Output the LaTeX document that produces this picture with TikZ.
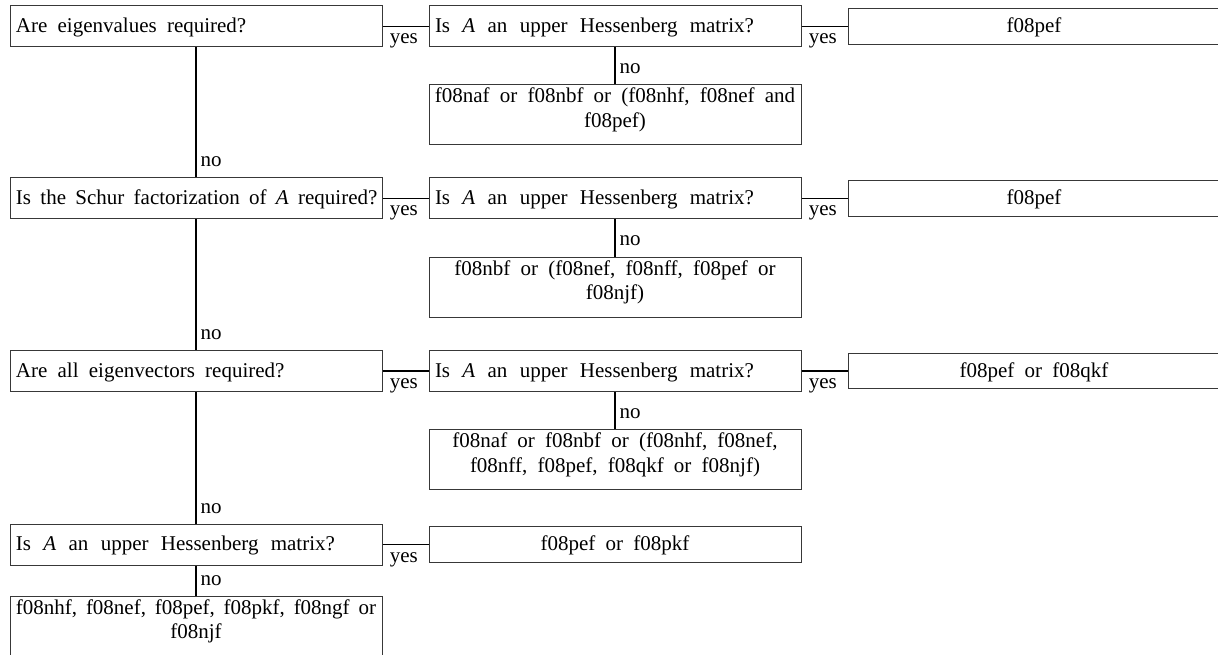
\documentclass[tikz,border=0pt]{standalone}
\usepackage{fontspec}
\setmainfont{Liberation Serif}
\tikzset{
  x=1pt, y=1pt,
  basefont/.style={font=\fontsize{21}{24.5}\selectfont, execute at begin node={\spaceskip=10.2pt plus 3pt minus 2pt\relax}},
  dec/.style={basefont, draw=black!78, line width=1pt, minimum width=372pt, minimum height=41pt,
    text width=360pt, inner xsep=6pt, inner ysep=0pt, align=left, text height=13pt, text depth=1pt},
  res/.style={basefont, draw=black!78, line width=1pt, minimum width=372pt, minimum height=35.5pt,
    inner sep=0pt, text height=13pt, text depth=1pt},
  subbox/.style={basefont, draw=black!78, line width=1pt, minimum width=372pt, minimum height=60pt,
    inner sep=0pt, text height=13pt, text depth=37pt},
  con/.style={draw=black, line width=1.4pt},
  yeslab/.style={basefont, pos=1, anchor=base east, inner sep=0pt, xshift=-10pt, yshift=-17.5pt},
  nolab/.style={basefont, pos=1, anchor=base west, inner sep=0pt, xshift=4pt, yshift=10.5pt}
}
\begin{document}
\begin{tikzpicture}
\useasboundingbox (0,0) rectangle (1218,-655);
\fill[white] (0,0) rectangle (1218,-655);
% row 1
\node[dec] (d1) at (196,-26.5) {Are eigenvalues required?};
\node[dec] (h1) at (615,-26.5) {\spaceskip=12.3pt\relax Is \textit{A} an upper Hessenberg matrix?};
\node[res] (r1) at (1034,-26.5) {f08pef};
\node[subbox] (s1) at (615,-115) {\parbox[t]{364pt}{\centering f08naf or f08nbf or (f08nhf, f08nef and\\ f08pef)}};
% row 2
\node[dec] (d2) at (196,-198.5) {\mbox{\spaceskip=9.3pt plus 1pt minus 1pt\relax Is the Schur factorization of \textit{A} required?}};
\node[dec] (h2) at (615,-198.5) {\spaceskip=12.3pt\relax Is \textit{A} an upper Hessenberg matrix?};
\node[res] (r2) at (1034,-198.5) {f08pef};
\node[subbox] (s2) at (615,-287) {\parbox[t]{364pt}{\centering f08nbf or (f08nef, f08nff, f08pef or\\ f08njf)}};
% row 3
\node[dec] (d3) at (196,-371) {Are all eigenvectors required?};
\node[dec] (h3) at (615,-371) {\spaceskip=12.3pt\relax Is \textit{A} an upper Hessenberg matrix?};
\node[res] (r3) at (1034,-371) {f08pef or f08qkf};
\node[subbox] (s3) at (615,-459.5) {\parbox[t]{364pt}{\centering f08naf or f08nbf or (f08nhf, f08nef,\\ f08nff, f08pef, f08qkf or f08njf)}};
% row 4
\node[dec] (d4) at (196,-544.5) {\spaceskip=12.3pt\relax Is \textit{A} an upper Hessenberg matrix?};
\node[res] (r4) at (615,-544.5) {f08pef or f08pkf};
\node[subbox] (s4) at (196,-626) {\parbox[t]{366pt}{\centering \mbox{\spaceskip=8.8pt\relax f08nhf, f08nef, f08pef, f08pkf, f08ngf or}\\ f08njf}};
% connectors
\draw[con] (d1.east) -- (h1.west) node[yeslab] {yes};
\draw[con] (h1.east) -- (r1.west) node[yeslab] {yes};
\draw[con] (h1.south) -- (s1.north) node[nolab] {no};
\draw[con] (d1.south) -- (d2.north) node[nolab] {no};
\draw[con] (d2.east) -- (h2.west) node[yeslab] {yes};
\draw[con] (h2.east) -- (r2.west) node[yeslab] {yes};
\draw[con] (h2.south) -- (s2.north) node[nolab] {no};
\draw[con] (d2.south) -- (d3.north) node[nolab] {no};
\draw[con] (d3.east) -- (h3.west) node[yeslab] {yes};
\draw[con] (h3.east) -- (r3.west) node[yeslab] {yes};
\draw[con] (h3.south) -- (s3.north) node[nolab] {no};
\draw[con] (d3.south) -- (d4.north) node[nolab] {no};
\draw[con] (d4.east) -- (r4.west) node[yeslab] {yes};
\draw[con] (d4.south) -- (s4.north) node[nolab] {no};
\end{tikzpicture}
\end{document}
